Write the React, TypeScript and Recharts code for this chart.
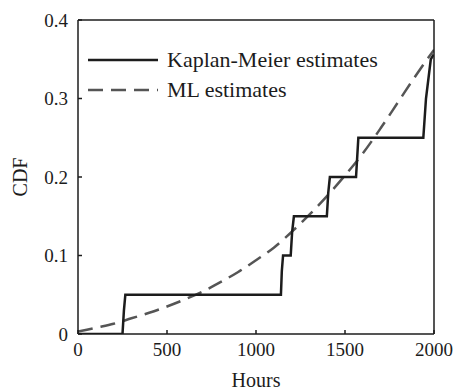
import { Legend, Line, LineChart, XAxis, YAxis } from 'recharts';

// Kaplan-Meier step curve (hours, CDF)
const kmHours = [0, 250, 258, 266, 1140, 1145, 1152, 1195, 1203, 1213, 1398, 1406, 1415, 1562, 1575, 1940, 1955, 1982, 1998];
const kmCdf = [0, 0, 0.03, 0.05, 0.05, 0.08, 0.1, 0.1, 0.13, 0.15, 0.15, 0.18, 0.2, 0.2, 0.25, 0.25, 0.3, 0.35, 0.356];

// ML (parametric) CDF estimate
const mlHours = [0, 100, 200, 300, 400, 500, 600, 700, 800, 900, 1000, 1100, 1200, 1300, 1400, 1500, 1600, 1700, 1800, 1900, 2000];
const mlCdf = [0.003, 0.008, 0.013, 0.02, 0.027, 0.035, 0.044, 0.054, 0.066, 0.079, 0.094, 0.11, 0.13, 0.152, 0.176, 0.202, 0.23, 0.262, 0.296, 0.33, 0.362];

const xTicks = [0, 500, 1000, 1500, 2000];
const yTicks = [0, 0.1, 0.2, 0.3, 0.4];

const seriesNames = ['Kaplan-Meier estimates', 'ML estimates'];

const FONT = '"Liberation Serif", "Times New Roman", serif';
const INK = '#1c1c1c';
const DASH_GREY = '#555555';

const kmData = kmHours.map((h, i) => ({ hours: h, cdf: kmCdf[i] }));
const mlData = mlHours.map((h, i) => ({ hours: h, cdf: mlCdf[i] }));

const fmtY = (v: number) => (v === 0 ? '0' : String(v));
const noLabel = () => <g />;

function KmLegend() {
  const styles = [
    { stroke: INK, width: 2.5, dash: undefined },
    { stroke: DASH_GREY, width: 2.5, dash: '15 8' },
  ];
  return (
    <div style={{ fontFamily: FONT, fontSize: 22, color: INK }}>
      {seriesNames.map((name, i) => (
        <div key={name} style={{ display: 'flex', alignItems: 'center', height: 30 }}>
          <svg width={72} height={10}>
            <line
              x1={0}
              x2={70}
              y1={5}
              y2={5}
              stroke={styles[i].stroke}
              strokeWidth={styles[i].width}
              strokeDasharray={styles[i].dash}
            />
          </svg>
          <span style={{ marginLeft: 7, lineHeight: '30px', whiteSpace: 'nowrap' }}>{name}</span>
        </div>
      ))}
    </div>
  );
}

export default function App() {
  const tickStyle = { fontFamily: FONT, fontSize: 19, fill: INK };
  return (
    <div style={{ position: 'absolute', left: 0, top: 0, background: '#fff' }}>
      <LineChart width={456} height={392} margin={{ top: 19, right: 21, bottom: 0, left: 20 }}>
        <XAxis
          xAxisId="bottom"
          type="number"
          dataKey="hours"
          domain={[0, 2000]}
          ticks={xTicks}
          allowDataOverflow
          height={58}
          tickSize={-4}
          tickMargin={13}
          tick={tickStyle}
          stroke={INK}
          strokeWidth={1.5}
          label={{ value: 'Hours', position: 'insideBottom', offset: 5, style: { fontFamily: FONT, fontSize: 20, fill: INK } }}
        />
        <XAxis
          xAxisId="top"
          orientation="top"
          type="number"
          dataKey="hours"
          domain={[0, 2000]}
          ticks={xTicks}
          height={1}
          tickSize={-4}
          tick={noLabel}
          stroke={INK}
          strokeWidth={1.5}
        />
        <YAxis
          yAxisId="left"
          type="number"
          domain={[0, 0.4]}
          ticks={yTicks}
          allowDataOverflow
          width={58}
          tickSize={-4}
          tickMargin={14}
          tickFormatter={fmtY}
          tick={tickStyle}
          stroke={INK}
          strokeWidth={1.5}
          label={{ value: 'CDF', angle: -90, position: 'insideLeft', offset: 0, style: { textAnchor: 'middle', fontFamily: FONT, fontSize: 20, fill: INK } }}
        />
        <YAxis
          yAxisId="right"
          orientation="right"
          type="number"
          domain={[0, 0.4]}
          ticks={yTicks}
          width={1}
          tickSize={-4}
          tick={noLabel}
          stroke={INK}
          strokeWidth={1.5}
        />
        <Legend
          layout="vertical"
          align="center"
          verticalAlign="middle"
          content={() => <KmLegend />}
          wrapperStyle={{ left: 88, top: 45, width: 'auto' }}
        />
        <Line
          xAxisId="bottom"
          yAxisId="left"
          data={mlData}
          dataKey="cdf"
          name={seriesNames[1]}
          type="monotone"
          stroke={DASH_GREY}
          strokeWidth={2.5}
          strokeDasharray="15 8"
          dot={false}
          isAnimationActive={false}
        />
        <Line
          xAxisId="bottom"
          yAxisId="left"
          data={kmData}
          dataKey="cdf"
          name={seriesNames[0]}
          type="linear"
          stroke={INK}
          strokeWidth={2.5}
          dot={false}
          isAnimationActive={false}
        />
      </LineChart>
    </div>
  );
}
